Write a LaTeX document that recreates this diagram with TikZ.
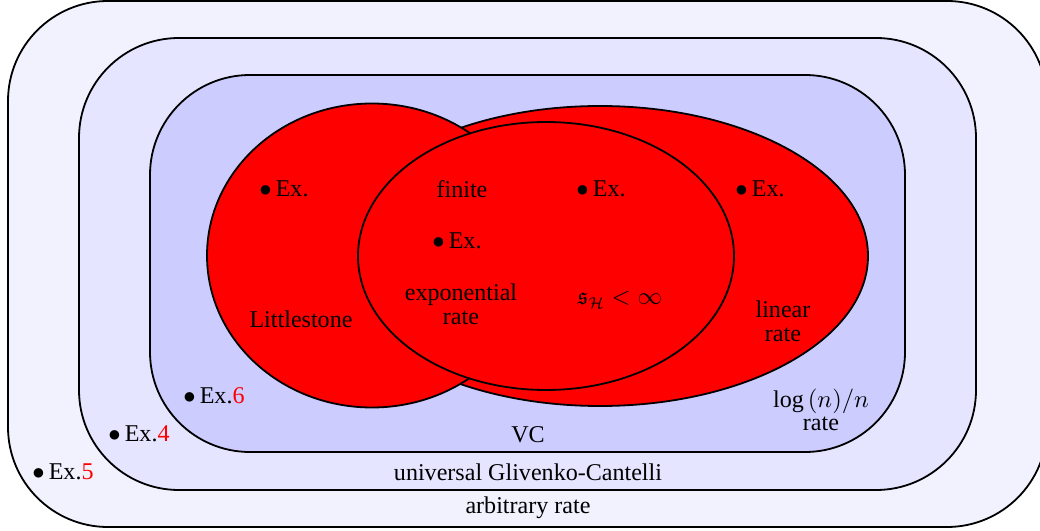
\documentclass[tikz,border=0pt]{standalone}
\usepackage{fontspec}
\setmainfont{Liberation Serif}
\usepackage{amsmath,amssymb}
\usepackage{tikz}
\usetikzlibrary{positioning}

\begin{document}
\begin{tikzpicture}[x=0.015625cm,y=-0.015625cm,thick,
		every node/.style={font=\fontsize{10.7pt}{12.5pt}\selectfont},
		region/.style={draw,rounded corners=1.5625cm},
		blob/.style={draw,fill=red},
		lbl/.style={align=center,inner sep=0pt},
		ex/.style={inner sep=0pt}]
		\useasboundingbox (0,0) rectangle (1040,531);

		\draw[region,fill=blue!5] (8,1) rectangle (1047,527);
		\draw[region,fill=blue!10] (79,38) rectangle (976,490);
		\draw[region,fill=blue!20] (150,75) rectangle (905,452);

		\draw[blob] (600,256) ellipse [x radius=268, y radius=150];
		\draw[blob] (372,255.5) ellipse [x radius=165, y radius=152];
		\draw[blob] (546,256) ellipse [x radius=188, y radius=134];

		\node[ex] (exL) at (284,189) {$\bullet$\,Ex.};
		\node[lbl] (fin) at (462,189) {finite};
		\node[ex] (exM) at (601,189) {$\bullet$\,Ex.};
		\node[ex] (exR) at (760,189) {$\bullet$\,Ex.};
		\node[ex] (exE) at (457,241) {$\bullet$\,Ex.};
		\node[lbl] (expo) at (461,304) {exponential\\[-2pt]rate};
		\node[lbl] (sh) at (620,300) {$\mathfrak{s}_{\mathcal{H}}<\infty$};
		\node[lbl] (lit) at (301,319) {Littlestone};
		\node[lbl] (lin) at (783,321) {linear\\[-2pt]rate};
		\node[ex] (ex6) at (214,396) {$\bullet$\,Ex.\textcolor{red}{6}};
		\node[lbl] (logn) at (821,410) {$\log{(n)}/n$\\[-2pt]rate};
		\node[lbl] (vc) at (528,435) {VC};
		\node[ex] (ex4) at (139,434) {$\bullet$\,Ex.\textcolor{red}{4}};
		\node[lbl] (ugc) at (528,472) {universal Glivenko-Cantelli};
		\node[ex] (ex5) at (63,472) {$\bullet$\,Ex.\textcolor{red}{5}};
		\node[lbl] (arb) at (528,508) {arbitrary rate};
	\end{tikzpicture}
\end{document}
